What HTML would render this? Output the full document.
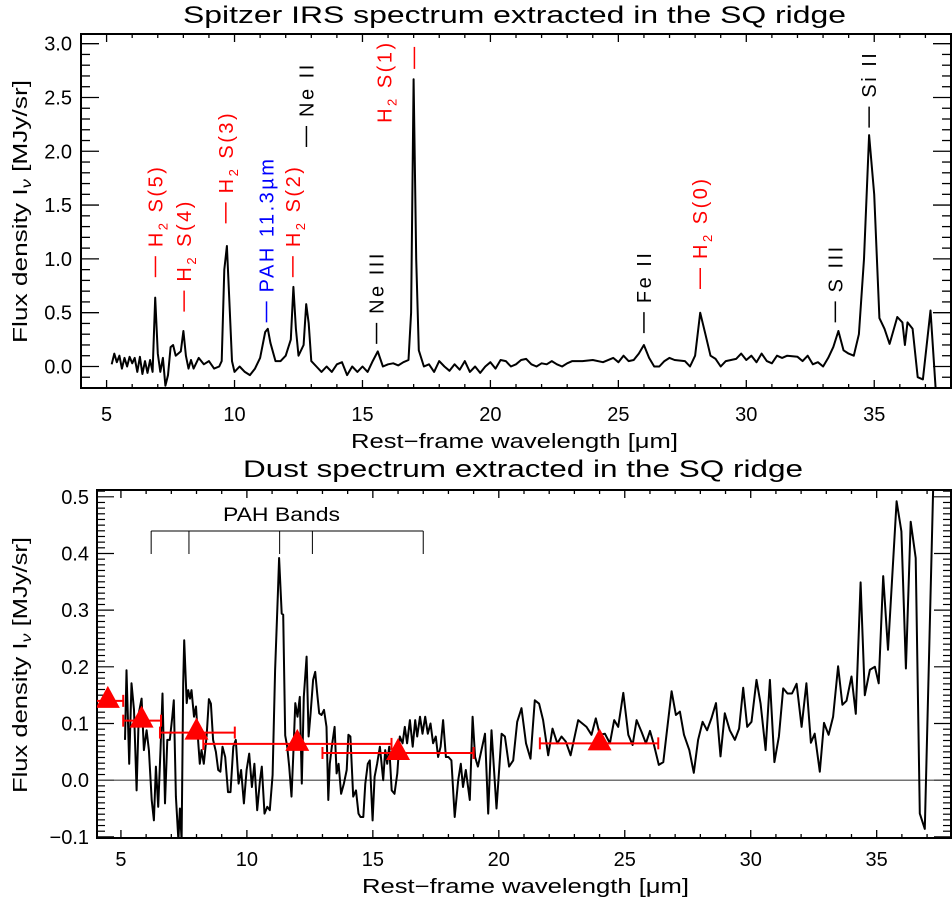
<!DOCTYPE html>
<html><head><meta charset="utf-8"><style>
html,body{margin:0;padding:0;background:#fff;}
svg{display:block;font-family:"Liberation Sans",sans-serif;}
</style></head><body>
<svg id="fig" width="952" height="903" viewBox="0 0 952 903" xmlns="http://www.w3.org/2000/svg">
<defs>
<clipPath id="clipTop"><rect x="81" y="34" width="870" height="354"/></clipPath>
<clipPath id="clipBot"><rect x="97" y="490" width="854" height="348"/></clipPath>
</defs>
<text x="183" y="23" font-size="24" textLength="663" lengthAdjust="spacingAndGlyphs">Spitzer IRS spectrum extracted in the SQ ridge</text>
<text x="243" y="477" font-size="24" textLength="560" lengthAdjust="spacingAndGlyphs">Dust spectrum extracted in the SQ ridge</text>
<g id="top"></g>
<g id="bot"></g>
</svg>
<script>
// ---------- TOP PLOT DATA ----------
const topWave = [5.2,5.3,5.4,5.5,5.6,5.7,5.8,5.9,6.0,6.1,6.2,6.3,6.4,6.5,6.6,6.7,6.8,6.9,7.0,7.1,7.2,7.3,7.4,7.5,7.6,7.7,7.8,7.9,8.0,8.1,8.2,8.3,8.4,8.6,8.8,9.0,9.2,9.4,9.5,9.6,9.7,9.8,9.9,10.0,10.2,10.4,10.6,10.8,11.0,11.2,11.3,11.4,11.6,11.8,12.0,12.2,12.3,12.4,12.5,12.7,12.8,12.9,13.0,13.2,13.4,13.6,13.8,14.0,14.2,14.4,14.6,14.8,15.0,15.2,15.4,15.6,15.8,16.0,16.2,16.4,16.6,16.8,16.9,17.0,17.1,17.2,17.4,17.6,17.8,18.0,18.2,18.4,18.6,18.8,19.0,19.2,19.4,19.6,19.8,20.0,20.2,20.4,20.6,20.8,21.0,21.2,21.4,21.6,21.8,22.0,22.2,22.4,22.6,22.8,23.0,23.2,23.6,24.0,24.4,24.8,25.0,25.2,25.4,25.6,25.8,26.0,26.2,26.4,26.6,26.8,27.0,27.2,27.6,27.8,28.0,28.2,28.4,28.6,28.8,29.0,29.2,29.6,29.8,30.0,30.2,30.4,30.6,30.8,31.0,31.2,31.4,31.6,32.0,32.2,32.4,32.6,32.8,33.0,33.2,33.4,33.6,33.8,34.0,34.2,34.4,34.6,34.8,35.0,35.2,35.4,35.6,35.9,36.1,36.2,36.3,36.5,36.7,36.9,37.2,37.4];
const topFlux = [0.02,0.12,0.04,0.10,-0.02,0.08,0.0,0.09,0.03,0.08,-0.05,0.09,-0.07,0.05,-0.06,0.06,-0.05,0.64,0.12,-0.05,0.08,-0.18,-0.08,0.18,0.20,0.10,0.12,0.14,0.33,0.10,-0.02,0.06,-0.02,0.08,0.02,0.05,-0.02,0.0,0.05,0.9,1.12,0.6,0.05,-0.05,0.0,-0.05,-0.08,-0.02,0.08,0.32,0.35,0.22,0.05,0.05,0.10,0.25,0.74,0.35,0.1,0.2,0.58,0.4,0.05,0.0,-0.05,0.0,-0.05,0.02,0.04,-0.08,0.0,-0.05,0.0,-0.05,0.05,0.14,0.0,0.02,0.03,0.01,0.04,0.06,0.5,2.67,1.0,0.15,0.0,0.02,-0.05,0.05,0.0,-0.04,0.02,-0.03,0.05,-0.05,0.0,-0.06,0.0,0.04,-0.02,0.06,0.05,0.0,0.02,0.06,0.07,0.02,0.0,0.03,0.02,0.05,0.02,0.0,0.03,0.05,0.05,0.06,0.04,0.08,0.04,0.1,0.05,0.06,0.12,0.2,0.08,0.0,0.0,0.05,0.08,0.06,0.05,0.0,0.1,0.5,0.3,0.1,0.07,0.0,0.05,0.07,0.12,0.06,0.1,0.04,0.12,0.05,0.03,0.1,0.08,0.1,0.09,0.05,0.1,0.02,0.04,0.0,0.08,0.18,0.33,0.15,0.12,0.10,0.3,1.0,2.15,1.6,0.45,0.35,0.21,0.46,0.41,0.20,0.41,0.35,-0.1,-0.12,0.52,-0.2];
const topXTicks = [5,10,15,20,25,30,35];
const topYTicks = [0.0,0.5,1.0,1.5,2.0,2.5,3.0];
const lineLabels = ["H2 S(5)","H2 S(4)","H2 S(3)","PAH 11.3µm","H2 S(2)","Ne II","Ne III","H2 S(1)","Fe II","H2 S(0)","S III","Si II"];
const lineWaves = [6.91,8.03,9.66,11.25,12.28,12.81,15.55,17.03,26.0,28.2,33.48,34.8];
const lineHeights = [0.83,0.51,1.33,0.41,0.83,2.04,0.21,2.97,0.31,0.72,0.41,2.22];

// ---------- BOTTOM PLOT DATA ----------
const dustWave = [5.16,5.22,5.33,5.42,5.52,5.62,5.71,5.82,5.91,6.02,6.11,6.22,6.31,6.39,6.48,6.57,6.65,6.75,6.84,6.94,7.04,7.10,7.18,7.28,7.34,7.41,7.47,7.51,7.61,7.67,7.74,7.80,7.90,7.98,8.07,8.13,8.20,8.29,8.40,8.49,8.57,8.66,8.77,8.86,8.95,9.03,9.14,9.25,9.35,9.46,9.56,9.67,9.77,9.88,9.99,10.09,10.20,10.30,10.41,10.52,10.59,10.70,10.81,10.91,11.02,11.12,11.23,11.28,11.38,11.44,11.52,11.60,11.68,11.77,11.84,11.92,12.01,12.10,12.18,12.26,12.37,12.45,12.53,12.63,12.71,12.79,12.87,12.96,13.06,13.16,13.23,13.29,13.37,13.48,13.56,13.64,13.74,13.85,13.96,14.03,14.11,14.22,14.33,14.43,14.51,14.62,14.70,14.80,14.88,14.99,15.07,15.17,15.28,15.41,15.49,15.57,15.65,15.75,15.86,15.97,16.07,16.18,16.27,16.36,16.47,16.58,16.68,16.76,16.87,16.97,17.08,17.18,17.29,17.39,17.50,17.59,17.69,17.79,17.90,18.00,18.12,18.25,18.39,18.49,18.58,18.69,18.85,18.96,19.06,19.17,19.45,19.58,19.71,19.91,20.11,20.24,20.41,20.57,20.73,20.90,21.08,21.26,21.43,21.60,21.76,21.96,22.13,22.32,22.49,22.66,22.85,23.15,23.48,23.68,23.85,24.01,24.21,24.41,24.58,24.74,24.94,25.14,25.31,25.47,25.67,25.84,26.00,26.16,26.35,26.53,26.66,26.86,27.03,27.19,27.35,27.56,27.74,27.91,28.09,28.27,28.44,28.62,28.80,28.97,29.17,29.37,29.54,29.70,29.86,30.03,30.23,30.39,30.59,30.76,30.94,31.12,31.29,31.46,31.64,31.82,32.02,32.21,32.39,32.54,32.74,32.91,33.09,33.27,33.47,33.64,33.80,34.00,34.17,34.36,34.53,34.73,34.93,35.08,35.26,35.45,35.79,35.98,36.16,36.35,36.55,36.71,36.91,37.24,37.4];
const dustFlux = [0.071,0.194,0.029,0.171,0.124,-0.018,0.118,0.144,0.053,0.088,0.053,-0.035,-0.071,0.024,-0.047,0.053,0.153,-0.041,0.071,0.071,0.112,0.141,-0.029,-0.106,-0.050,-0.106,0.171,0.247,0.136,0.159,0.144,0.159,0.112,0.130,0.065,0.029,0.053,0.029,0.077,0.143,0.135,0.071,0.050,0.018,0.015,0.059,0.041,-0.021,-0.021,0.059,0.071,-0.006,0.018,-0.041,0.018,0.047,-0.012,0.029,-0.053,0.0,0.024,-0.059,-0.047,-0.053,0.009,0.194,0.330,0.392,0.294,0.292,0.079,0.059,0.024,-0.029,0.041,0.136,0.112,0.147,-0.006,0.147,0.218,0.077,0.118,0.177,0.191,0.153,0.118,0.115,0.124,0.094,-0.035,0.029,0.059,0.094,0.012,0.029,-0.024,-0.006,0.018,0.080,0.077,-0.029,-0.018,-0.059,-0.065,-0.065,-0.006,0.029,0.035,-0.071,0.006,0.029,0.059,0.0,0.053,0.029,0.059,-0.018,-0.024,0.012,0.077,0.065,0.094,0.065,0.106,0.059,0.106,0.077,0.112,0.082,0.112,0.082,0.100,0.065,0.077,0.041,0.059,0.106,0.041,0.041,0.035,-0.065,0.0,0.029,-0.012,0.018,-0.035,0.112,0.041,0.024,0.082,-0.059,0.088,-0.050,0.082,0.077,0.024,0.035,0.103,0.127,0.065,0.038,0.141,0.135,0.106,0.044,0.091,0.065,0.077,0.068,0.044,0.106,0.094,0.080,0.109,0.080,0.082,0.065,0.106,0.094,0.154,0.080,0.062,0.106,0.085,0.065,0.087,0.062,0.027,0.032,0.082,0.157,0.115,0.121,0.080,0.053,0.013,0.071,0.103,0.088,0.109,0.136,0.042,0.118,0.088,0.071,0.091,0.163,0.094,0.103,0.177,0.135,0.053,0.177,0.032,0.077,0.162,0.153,0.153,0.170,0.094,0.171,0.066,0.082,0.015,0.101,0.080,0.112,0.201,0.133,0.140,0.183,0.117,0.349,0.150,0.195,0.200,0.171,0.360,0.230,0.492,0.439,0.197,0.456,0.392,-0.059,-0.086,0.51,0.62];
const photWave = [4.48,5.82,8.0,12.0,16.0,24.0];
const photFlux = [0.140,0.105,0.084,0.064,0.048,0.065];
const photLo = [4.0,5.09,6.55,8.27,13.0,21.63];
const photHi = [5.09,6.59,9.52,15.74,19.0,26.33];
const pahBands = [6.2,7.7,11.3,12.6,17.0];
const botXTicks = [5,10,15,20,25,30,35];
const botYTicks = [-0.1,0.0,0.1,0.2,0.3,0.4,0.5];

const NS = "http://www.w3.org/2000/svg";
function mk(parent, tag, attrs, text){
  const e = document.createElementNS(NS, tag);
  for (const k in attrs) e.setAttribute(k, attrs[k]);
  if (text !== undefined) e.textContent = text;
  parent.appendChild(e);
  return e;
}

// ---------- TOP ----------
const T = {l:81, r:951, t:34, b:388, x0:4, x1:38, y0:-0.2, y1:3.09};
const tx = v => T.l + (v - T.x0) / (T.x1 - T.x0) * (T.r - T.l);
const ty = v => T.b - (v - T.y0) / (T.y1 - T.y0) * (T.b - T.t);
const gT = document.getElementById('top');

(function(){
  const ax = mk(gT, 'g', {});
  
  
  for (let v = 4; v <= 38; v++) {
    const major = v % 5 === 0, len = major ? 8 : 4;
    mk(ax, 'line', {x1:tx(v), x2:tx(v), y1:T.b, y2:T.b-len, stroke:'#000', 'stroke-width':1.3});
    mk(ax, 'line', {x1:tx(v), x2:tx(v), y1:T.t, y2:T.t+len, stroke:'#000', 'stroke-width':1.3});
  }
  for (let i = -2; i <= 30; i++) {
    const v = i / 10, major = i % 5 === 0, len = major ? 18 : 9;
    mk(ax, 'line', {x1:T.l, x2:T.l+len, y1:ty(v), y2:ty(v), stroke:'#000', 'stroke-width':1.3});
    mk(ax, 'line', {x1:T.r, x2:T.r-len, y1:ty(v), y2:ty(v), stroke:'#000', 'stroke-width':1.3});
  }
  topXTicks.forEach(v => {
    const t = mk(ax, 'text', {x:tx(v), y:421, 'font-size':20, 'text-anchor':'middle'}, String(v));
    
    
  });
  topYTicks.forEach(v => {
    const t = mk(ax, 'text', {x:72, y:ty(v)+7, 'font-size':20, 'text-anchor':'end'}, v.toFixed(1));
    
    
  });
  mk(ax, 'rect', {x:T.l, y:T.t, width:T.r-T.l, height:T.b-T.t, fill:'none', stroke:'#000', 'stroke-width':2});
  const xt = mk(ax, 'text', {x:351, y:448, 'font-size':20, textLength:327, lengthAdjust:'spacingAndGlyphs'}, 'Rest\u2212frame wavelength [\u03bcm]');
  
  
  const yt = mk(ax, 'text', {transform:'translate(27,343) rotate(-90)', 'font-size':20, textLength:263, lengthAdjust:'spacingAndGlyphs'});
  
  
  yt.innerHTML = 'Flux density I<tspan font-size="14" dy="4" font-style="italic">\u03bd</tspan><tspan dy="-4"> [MJy/sr]</tspan>';

  let d = '';
  topWave.forEach((w, i) => { d += (i ? 'L' : 'M') + tx(w).toFixed(1) + ' ' + ty(topFlux[i]).toFixed(1); });
  const p = mk(gT, 'path', {d:d, fill:'none', stroke:'#000', 'stroke-width':2, 'stroke-linejoin':'round', 'clip-path':'url(#clipTop)'});
  
  

  lineLabels.forEach((lab, i) => {
    const col = lab.indexOf('H2') === 0 ? '#ff0000' : (lab.indexOf('PAH') === 0 ? '#0000ff' : '#000');
    const x = tx(lineWaves[i]), y = ty(lineHeights[i]);
    const g = mk(gT, 'g', {});
    
    
    let body = lab;
    if (lab.indexOf('H2') === 0) body = 'H<tspan font-size="13" dy="5">2</tspan><tspan dy="-5"> ' + lab.slice(3) + '</tspan>';
    if (lab === 'H2 S(1)') {
      mk(g, 'line', {x1:x, x2:x, y1:y, y2:y+22, stroke:col, 'stroke-width':1.5});
      const t = mk(g, 'text', {transform:'translate(' + (x-23) + ',' + (y+76) + ') rotate(-90)', 'font-size':20, 'letter-spacing':2.5, fill:col});
      t.innerHTML = body;
    } else {
      mk(g, 'line', {x1:x, x2:x, y1:y, y2:y-21, stroke:col, 'stroke-width':1.5});
      const t = mk(g, 'text', {transform:'translate(' + (x+7) + ',' + (y-30) + ') rotate(-90)', 'font-size':20, 'letter-spacing':2.5, fill:col});
      t.innerHTML = body;
    }
  });
})();

// ---------- BOTTOM ----------
const B = {l:97, r:951, t:490, b:838, x0:4.05, x1:37.95, y0:-0.102, y1:0.512};
const bx = v => B.l + (v - B.x0) / (B.x1 - B.x0) * (B.r - B.l);
const by = v => B.b - (v - B.y0) / (B.y1 - B.y0) * (B.b - B.t);
const gB = document.getElementById('bot');

(function(){
  const ax = mk(gB, 'g', {});
  
  
  for (let v = 5; v <= 37; v++) {
    const major = v % 5 === 0, len = major ? 8 : 4;
    mk(ax, 'line', {x1:bx(v), x2:bx(v), y1:B.b, y2:B.b-len, stroke:'#000', 'stroke-width':1.3});
    mk(ax, 'line', {x1:bx(v), x2:bx(v), y1:B.t, y2:B.t+len, stroke:'#000', 'stroke-width':1.3});
  }
  for (let i = -10; i <= 51; i++) {
    const v = i / 100, major = i % 10 === 0, len = major ? 17 : 8;
    mk(ax, 'line', {x1:B.l, x2:B.l+len, y1:by(v), y2:by(v), stroke:'#000', 'stroke-width':1.2});
    mk(ax, 'line', {x1:B.r, x2:B.r-len, y1:by(v), y2:by(v), stroke:'#000', 'stroke-width':1.2});
  }
  botXTicks.forEach(v => {
    const t = mk(ax, 'text', {x:bx(v), y:866, 'font-size':20, 'text-anchor':'middle'}, String(v));
    
    
  });
  botYTicks.forEach(v => {
    const t = mk(ax, 'text', {x:89, y:by(v)+7, 'font-size':20, 'text-anchor':'end'}, (v < 0 ? '\u2212' : '') + Math.abs(v).toFixed(1));
    
    
  });
  const z = mk(ax, 'line', {x1:B.l, x2:B.r, y1:by(0), y2:by(0), stroke:'#444', 'stroke-width':1.2});
  
  
  mk(ax, 'rect', {x:B.l, y:B.t, width:B.r-B.l, height:B.b-B.t, fill:'none', stroke:'#000', 'stroke-width':2});
  const xt = mk(ax, 'text', {x:362, y:893, 'font-size':20, textLength:327, lengthAdjust:'spacingAndGlyphs'}, 'Rest\u2212frame wavelength [\u03bcm]');
  
  
  const yt = mk(ax, 'text', {transform:'translate(27,793) rotate(-90)', 'font-size':20, textLength:256, lengthAdjust:'spacingAndGlyphs'});
  
  
  yt.innerHTML = 'Flux density I<tspan font-size="14" dy="4" font-style="italic">\u03bd</tspan><tspan dy="-4"> [MJy/sr]</tspan>';

  const pg = mk(gB, 'g', {});
  
  
  mk(pg, 'line', {x1:bx(pahBands[0]), x2:bx(pahBands[pahBands.length-1]), y1:531, y2:531, stroke:'#000', 'stroke-width':1});
  pahBands.forEach(w => mk(pg, 'line', {x1:bx(w), x2:bx(w), y1:531, y2:554, stroke:'#000', 'stroke-width':1}));
  const pl = mk(pg, 'text', {x:223, y:521, 'font-size':19, textLength:117, lengthAdjust:'spacingAndGlyphs'}, 'PAH Bands');
  
  

  let d = '';
  dustWave.forEach((w, i) => { d += (i ? 'L' : 'M') + bx(w).toFixed(1) + ' ' + by(dustFlux[i]).toFixed(1); });
  const p = mk(gB, 'path', {d:d, fill:'none', stroke:'#000', 'stroke-width':2, 'stroke-linejoin':'round', 'clip-path':'url(#clipBot)'});
  
  

  photWave.forEach((w, i) => {
    const g = mk(gB, 'g', {'clip-path':'url(#clipBot)'});
    
    
    const y = by(photFlux[i]), x1 = bx(photLo[i]), x2 = bx(photHi[i]), x = bx(w);
    mk(g, 'line', {x1:x1, x2:x2, y1:y, y2:y, stroke:'#ff0000', 'stroke-width':2});
    mk(g, 'line', {x1:x1, x2:x1, y1:y-6, y2:y+6, stroke:'#ff0000', 'stroke-width':2});
    mk(g, 'line', {x1:x2, x2:x2, y1:y-6, y2:y+6, stroke:'#ff0000', 'stroke-width':2});
    mk(g, 'polygon', {points:(x-12)+','+(y+7)+' '+(x+12)+','+(y+7)+' '+x+','+(y-15), fill:'#ff0000'});
  });
})();
</script>
</body></html>
